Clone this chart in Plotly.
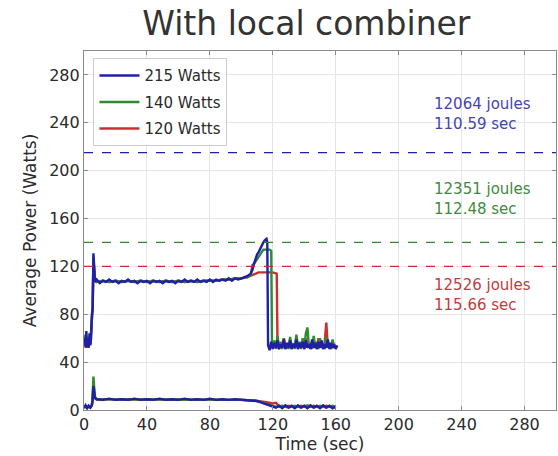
import plotly.graph_objects as go

# ---------------- data ----------------
series_names = ["215 Watts", "140 Watts", "120 Watts"]
caps = [215, 140, 120]
energy_labels = ["12064 joules", "12351 joules", "12526 joules"]
time_labels = ["110.59 sec", "112.48 sec", "115.66 sec"]
x_ticks = [0, 40, 80, 120, 160, 200, 240, 280]
y_ticks = [0, 40, 80, 120, 160, 200, 240, 280]

# 215 W run - total power
blue_t = [0, 0.5, 1, 1.5, 2, 2.5, 3, 3.5, 4, 4.5, 5, 5.5, 6, 6.5, 7, 8, 10, 12, 14, 16, 18, 20, 22, 24, 26, 28,
          30, 32, 34, 36, 38, 40, 42, 44, 46, 48, 50, 52, 54, 56, 58, 60, 62, 64, 66, 68, 70, 72, 74, 76, 78,
          80, 82, 84, 86, 88, 90, 92, 94, 96, 98, 100, 102, 104, 106, 107, 108, 109, 110, 111, 112, 113, 114,
          115, 116, 116.5, 117, 118, 119, 120, 121, 122, 123, 124, 125, 126, 127, 128, 129, 130, 131, 132, 133,
          134, 135, 136, 137, 138, 139, 140, 141, 142, 143, 144, 145, 146, 147, 148, 149, 150, 151, 152, 153,
          154, 155, 156, 157, 158, 159, 160, 161]
blue_p = [55, 60, 52, 66, 53, 58, 52, 64, 54, 60, 80, 84, 131, 118, 107, 109, 106, 108, 107, 109, 107, 108, 106,
          108, 107, 109, 107, 108, 106, 108, 107, 108, 106, 108, 107, 108, 106, 108, 107, 108, 106, 108, 107, 109,
          107, 108, 107, 109, 107, 108, 107, 109, 107, 109, 108, 109, 108, 110, 108, 110, 109, 110, 111, 112, 114,
          117, 122, 126, 130, 132, 135, 137, 140, 142, 143, 140, 54, 50, 57, 51, 56, 52, 58, 51, 55, 52, 59, 51,
          56, 52, 58, 51, 55, 52, 59, 51, 56, 52, 57, 51, 58, 52, 55, 51, 59, 52, 56, 51, 57, 52, 58, 51, 55, 52,
          59, 51, 56, 52, 55, 51, 54]

# 140 W run - total power
green_t = [0, 1, 2, 3, 4, 5, 5.5, 6, 6.5, 7, 8, 12, 16, 20, 24, 28, 32, 36, 40, 44, 48, 52, 56, 60, 64, 68, 72,
           76, 80, 84, 88, 92, 96, 100, 104, 106, 107, 108, 109, 110, 111, 112, 113, 114, 116, 118, 119, 119.5,
           120, 121, 122, 123, 124, 125, 126, 127, 128, 129, 130, 131, 132, 133, 134, 135, 136, 137, 138, 139,
           140, 141, 142, 143, 144, 145, 146, 147, 148, 149, 150, 151, 152, 153, 154, 155, 156, 157, 158, 159, 160]
green_p = [56, 63, 53, 61, 55, 79, 86, 128, 116, 108, 107, 108, 107, 108, 107, 108, 107, 108, 107, 108, 107, 108,
           107, 108, 107, 108, 107, 108, 108, 108, 109, 109, 110, 110, 111, 113, 121, 122, 124, 126, 128, 131,
           133, 134, 134, 134, 133, 55, 52, 58, 51, 62, 52, 56, 51, 60, 52, 55, 51, 61, 52, 56, 51, 63, 52, 57,
           51, 60, 52, 64, 69, 52, 56, 51, 62, 52, 57, 51, 60, 52, 55, 51, 61, 52, 56, 51, 59, 52, 54]

# 120 W run - total power
red_t = [0, 1, 2, 3, 4, 5, 5.5, 6, 6.5, 7, 8, 12, 16, 20, 24, 28, 32, 36, 40, 44, 48, 52, 56, 60, 64, 68, 72, 76,
         80, 84, 88, 92, 96, 100, 104, 106, 108, 110, 111, 114, 117, 120, 122.5, 123, 124, 125, 126, 127, 128,
         129, 130, 131, 132, 133, 134, 135, 136, 137, 138, 139, 140, 141, 142, 143, 144, 145, 146, 147, 148, 149,
         150, 151, 152, 153, 154, 155, 156, 157, 158, 159, 160]
red_p = [54, 62, 52, 60, 55, 78, 85, 125, 115, 108, 107, 108, 107, 108, 107, 108, 107, 108, 107, 108, 107, 108,
         107, 108, 107, 108, 107, 108, 108, 108, 109, 109, 110, 110, 111, 112, 113, 114, 115, 115, 115, 115, 114,
         53, 51, 57, 52, 60, 51, 56, 52, 59, 51, 55, 52, 61, 51, 56, 52, 58, 51, 60, 52, 55, 51, 58, 52, 56, 51,
         60, 52, 55, 51, 57, 73, 52, 56, 51, 58, 52, 54]

# lower traces (secondary power reading)
blue_low_t = [0, 1, 2, 3, 4, 5, 5.5, 6, 6.5, 7, 8, 12, 16, 20, 24, 28, 32, 36, 40, 44, 48, 52, 56, 60, 64, 68, 72,
              76, 80, 84, 88, 92, 96, 100, 104, 108, 110, 112, 114, 116, 118, 120, 122, 124, 126, 128, 130, 132,
              134, 136, 138, 140, 142, 144, 146, 148, 150, 152, 154, 156, 158, 160]
blue_low_p = [2, 4, 1.5, 3.5, 2, 4, 8, 20, 14, 10, 9, 8.5, 9.5, 8.5, 9, 8.5, 9.5, 8.5, 9, 8.5, 9.5, 8.5, 9, 8.5,
              9.5, 8.5, 9, 8.5, 9.5, 8.5, 9, 8.5, 9, 8.5, 8.5, 8, 7.5, 6.5, 5.5, 4.5, 3.5, 2.5, 2, 3.5, 1.5, 4, 2,
              3.5, 1.5, 4, 2, 3.5, 1.5, 4, 2, 3.5, 1.5, 4, 2, 3.5, 1.5, 3]

green_low_t = [0, 2, 4, 5, 5.5, 6, 6.5, 7, 8, 20, 40, 60, 80, 100, 108, 112, 116, 120, 122, 126, 130, 134, 138,
               142, 146, 150, 154, 158, 160]
green_low_p = [2, 3, 2, 4, 12, 28, 18, 11, 9, 9, 9, 9, 9, 8.5, 8, 7, 5, 3, 2.5, 3.5, 2, 3.5, 2, 4, 2, 3.5, 2,
               3.5, 2.5]

red_low_t = [0, 2, 4, 5, 5.5, 6, 6.5, 7, 8, 20, 40, 60, 80, 100, 108, 112, 116, 120, 122, 124, 126, 130, 134, 138,
             142, 146, 150, 154, 158, 160]
red_low_p = [2, 3, 2, 4, 10, 22, 15, 10, 9, 9, 9, 9, 9, 8.5, 8, 7.5, 6.5, 5.5, 6, 3, 2.5, 3.5, 2, 3.5, 2, 3.5,
             2, 3.5, 2, 2.5]

# ---------------- styling ----------------
line_colors = ["#1f1fa8", "#2e8b2e", "#c83030"]
text_colors = ["#4444b4", "#3f8a3f", "#c23c3c"]
FONT = "DejaVu Sans, Liberation Sans, sans-serif"

fig = go.Figure()

upper = [(blue_t, blue_p), (green_t, green_p), (red_t, red_p)]
lower = [(blue_low_t, blue_low_p), (green_low_t, green_low_p), (red_low_t, red_low_p)]

# draw red first, blue last (blue on top)
for i in [2, 1, 0]:
    t, p = upper[i]
    fig.add_trace(go.Scatter(x=t, y=p, mode="lines", name=series_names[i],
                             line=dict(color=line_colors[i], width=2.4),
                             legendgroup=series_names[i], legendrank=i + 1))
    lt, lp = lower[i]
    fig.add_trace(go.Scatter(x=lt, y=lp, mode="lines", name=series_names[i],
                             line=dict(color=line_colors[i], width=2.4),
                             legendgroup=series_names[i], showlegend=False))

for i, cap in enumerate(caps):
    fig.add_hline(y=cap, line=dict(color=line_colors[i], width=1.3, dash="dash"))

# text annotations next to each cap line
offsets = [32, 36, -24]
for i, cap in enumerate(caps):
    fig.add_annotation(x=221.5, y=cap + offsets[i], xref="x", yref="y",
                       text=energy_labels[i] + "<br>" + time_labels[i],
                       showarrow=False, xanchor="left", yanchor="middle", align="left",
                       font=dict(family=FONT, size=15, color=text_colors[i]))

axis_common = dict(range=[0, 300], showgrid=True, gridcolor="#e6e6e6", gridwidth=1,
                   showline=True, linecolor="#8a8a8a", linewidth=1.2, mirror="ticks",
                   ticks="inside", ticklen=4, tickcolor="#8a8a8a",
                   tickfont=dict(family=FONT, size=16, color="#2a2a2a"), zeroline=False)

fig.update_xaxes(**axis_common, tickvals=x_ticks,
                 title=dict(text="Time (sec)", font=dict(family=FONT, size=17, color="#2a2a2a"), standoff=2))
fig.update_yaxes(**axis_common, tickvals=y_ticks,
                 title=dict(text="Average Power (Watts)", font=dict(family=FONT, size=17, color="#2a2a2a"),
                            standoff=8))

fig.update_layout(
    width=558, height=456,
    margin=dict(l=84, r=2, t=51, b=46),
    paper_bgcolor="white", plot_bgcolor="white",
    title=dict(text="With local combiner", x=0.549, xanchor="center", y=0.948, yanchor="middle",
               yref="container", font=dict(family=FONT, size=33, color="#333333")),
    legend=dict(x=0.02, y=0.98, xanchor="left", yanchor="top",
                bgcolor="rgba(255,255,255,0.9)", bordercolor="#cccccc", borderwidth=1,
                font=dict(family=FONT, size=15, color="#2a2a2a"), itemwidth=40, tracegroupgap=4),
    showlegend=True,
)

fig.write_html("out.html")
